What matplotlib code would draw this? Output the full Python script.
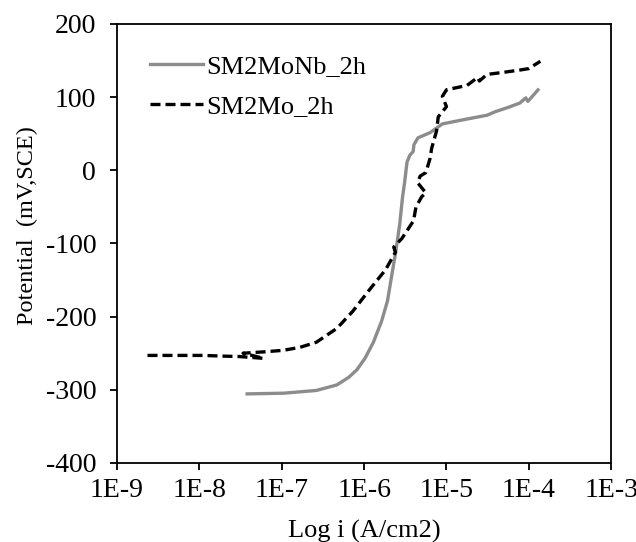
import numpy as np
import matplotlib
matplotlib.use('Agg')
import matplotlib.pyplot as plt

plt.rcParams['font.family'] = ['Liberation Serif', 'DejaVu Serif']
plt.rcParams['axes.unicode_minus'] = False

# SM2MoNb_2h  (log10 of current density, potential in mV)
nb_logi = [-7.42, -6.975, -6.58, -6.33, -6.185, -6.086, -5.988, -5.889, -5.79, -5.716,
           -5.667, -5.617, -5.568, -5.533, -5.509, -5.494, -5.479, -5.444, -5.405,
           -5.395, -5.346, -5.198, -5.05, -4.8, -4.506, -4.41, -4.25, -4.11, -4.037,
           -4.012, -3.95, -3.889]
nb_pot = [-305.6, -304.6, -300.9, -293.3, -282.8, -272.4, -256.7, -235.4, -207, -178.5,
          -145.3, -112.1, -74.1, -36.2, -17.2, -3, 11.2, 20.7, 25.5,
          35, 44.4, 51.5, 63.4, 69, 75.3, 80, 86, 91.9, 99,
          94.2, 102, 109.9]

# SM2Mo_2h
mo_logi = [-8.63, -8.3, -7.96, -7.7, -7.52, -7.22, -7.47, -7.2, -6.98, -6.78, -6.58,
           -6.33, -6.14, -5.94, -5.74, -5.62, -5.64, -5.54, -5.40, -5.37, -5.30, -5.25,
           -5.35, -5.32, -5.25, -5.20, -5.18, -5.12, -5.10, -5.0, -5.05, -5.0, -4.75,
           -4.62, -4.60, -4.51, -4.3, -4.11, -4.0, -3.86]
mo_pot = [-253, -253, -253, -254, -254.5, -257, -250, -248, -246, -242, -235,
          -216, -193, -164, -136, -112, -105, -93, -69, -50, -36, -31,
          -17, -8, -3, 16, 30, 54, 73, 87, 101, 110, 116,
          127, 122, 131, 134, 137, 139, 149]

fig = plt.figure(figsize=(6.36, 5.42), dpi=100)
ax = fig.add_axes([0.184, 0.1458, 0.777, 0.81])

ax.plot(10 ** np.array(nb_logi), nb_pot, color='#8c8c8c', lw=2.4, label='SM2MoNb_2h')
ax.plot(10 ** np.array(mo_logi), mo_pot, color='black', lw=2.4, ls=(0, (3, 1.5)),
        label='SM2Mo_2h')

ax.set_xscale('log')
ax.set_xlim(1e-9, 1e-3)
ax.set_ylim(-400, 200)
ax.set_yticks(np.arange(-400, 201, 100))
xt = [1e-9, 1e-8, 1e-7, 1e-6, 1e-5, 1e-4, 1e-3]
ax.set_xticks(xt)
ax.set_xticklabels(['1E-9', '1E-8', '1E-7', '1E-6', '1E-5', '1E-4', '1E-3'])
ax.minorticks_off()
ax.tick_params(labelsize=20, direction='out', length=5, width=1.3, top=False, right=False)
ax.tick_params(axis='x', pad=6)
ax.tick_params(axis='y', pad=10)
for s in ax.spines.values():
    s.set_linewidth(1.3)

ax.set_xlabel('Log i (A/cm2)', fontsize=19, labelpad=12)
ax.set_ylabel('Potential  (mV,SCE)', fontsize=17.5)
ax.yaxis.set_label_coords(-0.16, 0.54)

ax.legend(loc='upper left', bbox_to_anchor=(0.045, 0.955), frameon=False, fontsize=19,
          handlelength=2.0, handletextpad=0.15, labelspacing=0.65, borderaxespad=0)

fig.savefig('out.png', dpi=100)
